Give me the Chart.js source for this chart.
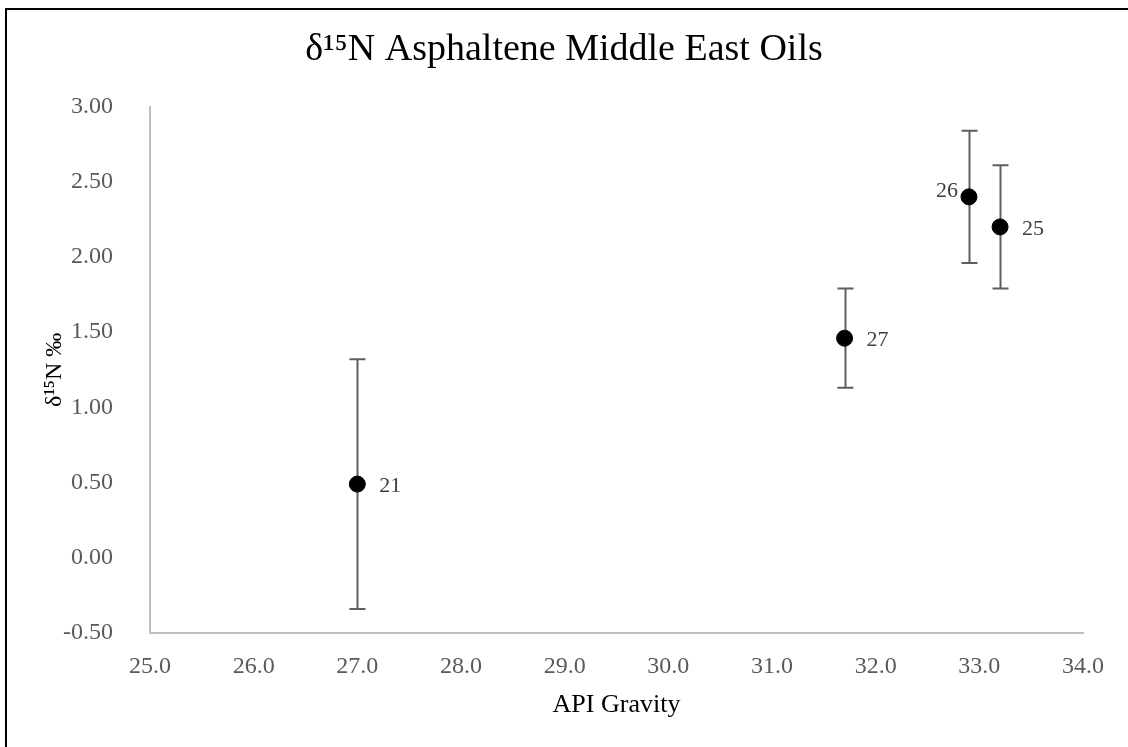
<!DOCTYPE html>
<html>
<head>
<meta charset="utf-8">
<script src="https://cdn.jsdelivr.net/npm/chart.js@4"></script>
<style>
html,body{margin:0;padding:0;background:#fff;}
#wrap{width:1128px;height:747px;position:relative;}
</style>
</head>
<body>
<div id="wrap"><canvas id="c" width="1128" height="747"></canvas></div>
<script>
// ---- data ----
const sampleLabels = ["21", "27", "26", "25"];
const apiGravity = [27.0, 31.7, 32.9, 33.2];
const d15N = [0.49, 1.46, 2.40, 2.20];
const d15NError = [0.83, 0.33, 0.44, 0.41];
const labelSide = ["right", "right", "left", "right"];
const xTicks = [25, 26, 27, 28, 29, 30, 31, 32, 33, 34];
const yTicks = [-0.5, 0, 0.5, 1, 1.5, 2, 2.5, 3];

const points = apiGravity.map((x, i) => ({x: x, y: d15N[i]}));
const SERIF = '"Liberation Serif", "Times New Roman", serif';

const errorBarPlugin = {
  id: 'errorBars',
  beforeDatasetsDraw(chart) {
    const ctx = chart.ctx;
    const xs = chart.scales.x, ys = chart.scales.y;
    ctx.save();
    ctx.strokeStyle = '#5f5f5f';
    ctx.lineWidth = 2;
    points.forEach((p, i) => {
      const px = Math.round(xs.getPixelForValue(p.x)) + 0.5;
      const top = ys.getPixelForValue(p.y + d15NError[i]);
      const bot = ys.getPixelForValue(p.y - d15NError[i]);
      ctx.beginPath();
      ctx.moveTo(px, top); ctx.lineTo(px, bot);
      ctx.moveTo(px - 8, top); ctx.lineTo(px + 8, top);
      ctx.moveTo(px - 8, bot); ctx.lineTo(px + 8, bot);
      ctx.stroke();
    });
    ctx.restore();
  },
  afterDatasetsDraw(chart) {
    const ctx = chart.ctx;
    const xs = chart.scales.x, ys = chart.scales.y;
    ctx.save();
    ctx.fillStyle = '#404040';
    ctx.font = '22px ' + SERIF;
    ctx.textBaseline = 'middle';
    points.forEach((p, i) => {
      const px = xs.getPixelForValue(p.x);
      const py = ys.getPixelForValue(p.y);
      if (labelSide[i] === 'left') {
        ctx.textAlign = 'right';
        ctx.fillText(sampleLabels[i], px - 11, py - 6);
      } else {
        ctx.textAlign = 'left';
        ctx.fillText(sampleLabels[i], px + 22, py + 2);
      }
    });
    ctx.restore();
  },
  afterDraw(chart) {
    const ctx = chart.ctx;
    ctx.save();
    ctx.fillStyle = '#000';
    ctx.fillRect(5, 8, 1123, 2);
    ctx.fillRect(5, 8, 2, 739);
    ctx.restore();
  }
};

new Chart(document.getElementById('c'), {
  type: 'scatter',
  data: {
    datasets: [{
      data: points,
      backgroundColor: '#000',
      borderColor: '#000',
      pointRadius: 8,
      pointHoverRadius: 8
    }]
  },
  options: {
    responsive: false,
    animation: false,
    devicePixelRatio: 1,
    layout: {padding: {left: 0, right: 0, top: 0, bottom: 0}},
    plugins: {
      legend: {display: false},
      tooltip: {enabled: false},
      title: {
        display: true,
        text: 'δ¹⁵N Asphaltene Middle East Oils',
        color: '#000',
        font: {family: SERIF, size: 38, weight: 'normal', lineHeight: 1.2},
        padding: {top: 27, bottom: 34}
      }
    },
    scales: {
      x: {
        type: 'linear',
        min: 25, max: 34,
        afterBuildTicks(s) { s.ticks = xTicks.map(v => ({value: v})); },
        afterFit(s) { s.height = 114; },
        grid: {display: false, drawTicks: false},
        border: {display: true, color: '#bfbfbf', width: 2},
        ticks: {
          color: '#595959',
          font: {family: SERIF, size: 24},
          padding: 19,
          maxRotation: 0,
          callback: v => v.toFixed(1)
        },
        title: {
          display: true,
          text: 'API Gravity',
          color: '#000',
          font: {family: SERIF, size: 26},
          padding: {top: 0, bottom: 26}
        }
      },
      y: {
        type: 'linear',
        min: -0.5, max: 3,
        afterBuildTicks(s) { s.ticks = yTicks.map(v => ({value: v})); },
        afterFit(s) { s.width = 150; },
        grid: {display: false, drawTicks: false},
        border: {display: true, color: '#bfbfbf', width: 2},
        ticks: {
          color: '#595959',
          font: {family: SERIF, size: 24},
          padding: 37,
          callback: v => v.toFixed(2)
        },
        title: {
          display: true,
          text: 'δ¹⁵N ‰',
          color: '#000',
          font: {family: SERIF, size: 24},
          padding: {top: 40, bottom: 0}
        }
      },
      yRight: {
        type: 'linear',
        position: 'right',
        min: -0.5, max: 3,
        afterFit(s) { s.width = 45; },
        grid: {display: false, drawTicks: false},
        border: {display: false},
        ticks: {display: false}
      }
    }
  },
  plugins: [errorBarPlugin]
});
</script>
</body>
</html>
